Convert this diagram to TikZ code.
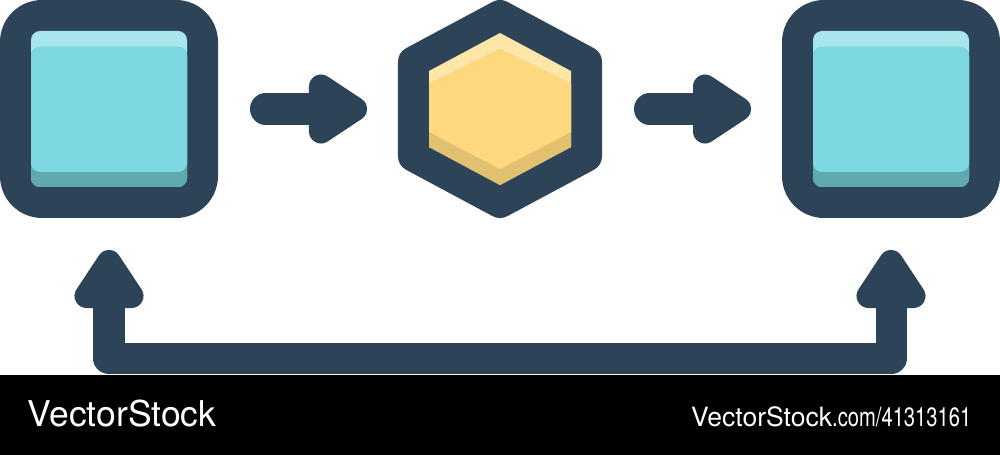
\documentclass[tikz,border=0pt]{standalone}
\usepackage{fontspec}
\setmainfont{TeX Gyre Heros}
\usetikzlibrary{calc}
\definecolor{dark}{RGB}{45,67,87}
\definecolor{cyanmain}{HTML}{7DD8E2}
\definecolor{cyanhi}{HTML}{A8E6EC}
\definecolor{cyansh}{HTML}{5FA9AF}
\definecolor{yelmain}{HTML}{FDD87E}
\definecolor{yelhi}{HTML}{FEE6A8}
\definecolor{yelsh}{HTML}{E1C06F}
\tikzset{
  shaft/.style={draw=dark, line width=0.31cm, line cap=round, line join=round},
  headR/.pic={\fill[dark, draw=dark, line width=0.24cm, line join=round] (0,0) -- (-34,-22.5) -- (-34,22.5) -- cycle;},
  sqouter/.style={fill=dark, rounded corners=0.42cm},
  sqinner/.style={rounded corners=0.09cm},
  wmark/.style={text=white, inner sep=0pt}
}
\begin{document}
\begin{tikzpicture}[x=0.01cm, y=-0.01cm]
\useasboundingbox (0,0) rectangle (1000,455);
\coordinate (A) at (109,109);
\coordinate (H) at (500,109);
\coordinate (B) at (891,109);
% squares
\foreach \c in {A,B}{
  \begin{scope}[shift={(\c)}]
    \path[sqouter] (-109,-109) rectangle (109,109);
    \fill[cyanhi, sqinner] (-78,-78) rectangle (78,78);
    \fill[cyansh, sqinner] (-78,-62) rectangle (78,78);
    \fill[cyanmain, sqinner] (-78,-62) rectangle (78,63);
  \end{scope}
}
% hexagon
\begin{scope}[shift={(H)}]
  \filldraw[fill=dark, draw=dark, line width=0.31cm, line join=round]
    (0,-93.5) -- (86.5,-47.2) -- (86.5,47.2) -- (0,93.5) -- (-86.5,47.2) -- (-86.5,-47.2) -- cycle;
  \fill[yelhi] (0,-76) -- (71,-38) -- (71,38) -- (0,76) -- (-71,38) -- (-71,-38) -- cycle;
  \fill[yelsh] (0,-60) -- (71,-25) -- (71,38) -- (0,76) -- (-71,38) -- (-71,-25) -- cycle;
  \fill[yelmain] (0,-60) -- (71,-25) -- (71,23) -- (0,60) -- (-71,23) -- (-71,-25) -- cycle;
\end{scope}
% right arrows
\draw[shaft] ($(A)+(156.5,0)$) -- ($(H)+(-175,0)$);
\pic at ($(H)+(-145,0)$) {headR};
\draw[shaft] ($(H)+(149.5,0)$) -- ($(B)+(-182,0)$);
\pic at ($(B)+(-152,0)$) {headR};
% bottom connector
\draw[shaft] ($(A)+(0,190)$) -- ($(A)+(0,249.5)$) -| ($(B)+(0,190)$);
\pic[rotate=90] at ($(A)+(0,153)$) {headR};
\pic[rotate=90] at ($(B)+(0,153)$) {headR};
% watermark bar
\fill[black] (0,375) rectangle (1000,455);
\node[wmark, anchor=base west, font=\fontsize{10.1pt}{12pt}\selectfont] (wm1) at (27,427) {VectorStock};
\node[wmark, anchor=base east, font=\fontsize{7.55pt}{9pt}\selectfont] (wm2) at (972,427) {VectorStock\scalebox{0.76}[1]{.com/41313161}};
\end{tikzpicture}
\end{document}
